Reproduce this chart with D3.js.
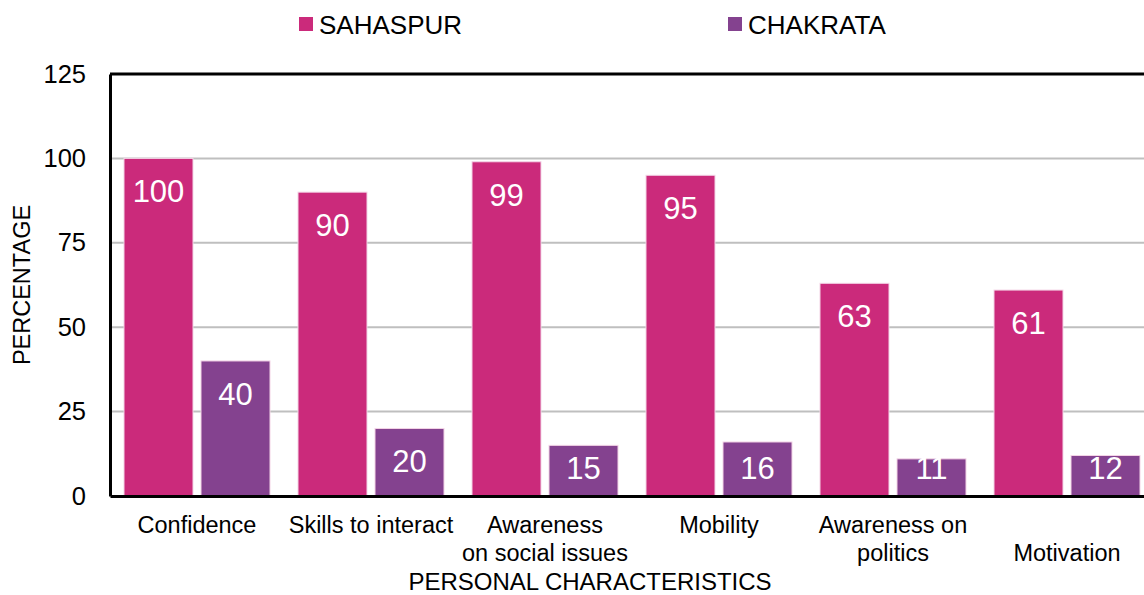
<!DOCTYPE html>
<html>
<head>
<meta charset="utf-8">
<script src="https://cdn.jsdelivr.net/npm/d3@7"></script>
<style>
  body { margin: 0; background: #fff; }
  svg { display: block; font-family: "Liberation Sans", Arial, sans-serif; }
</style>
</head>
<body>
<div id="chart"></div>
<script>
// chart values
const categories = ["Confidence", "Skills to interact", "Awareness on social issues", "Mobility", "Awareness on politics", "Motivation"];
const categoryLines = [["Confidence"], ["Skills to interact"], ["Awareness", "on social issues"], ["Mobility"], ["Awareness on", "politics"], ["", "Motivation"]];
const seriesNames = ["SAHASPUR", "CHAKRATA"];
const sahaspur = [100, 90, 99, 95, 63, 61];
const chakrata = [40, 20, 15, 16, 11, 12];
const yTicks = [0, 25, 50, 75, 100, 125];

const colors = {SAHASPUR: "#cb2a7b", CHAKRATA: "#84428f"};

const width = 1144, height = 595;
const margin = {top: 74, left: 110, bottom: 99};
const plotRight = 1154; // plot runs past the right edge, as in the source

const data = categories.map(function(c, i) {
    return {name: c, lines: categoryLines[i], values: [
        {key: "SAHASPUR", value: sahaspur[i]},
        {key: "CHAKRATA", value: chakrata[i]}
    ]};
});

const svg = d3.select("#chart").append("svg")
    .attr("width", width)
    .attr("height", height);

const x0 = d3.scaleBand()
    .domain(categories)
    .range([margin.left, plotRight])
    .padding(0);

const x1 = d3.scaleBand()
    .domain(seriesNames)
    .range([14, x0.bandwidth() - 14])
    .paddingInner(0.104);

const y = d3.scaleLinear()
    .domain([0, 125])
    .range([height - margin.bottom, margin.top]);

// gridlines
svg.append("g")
    .selectAll("line")
    .data(yTicks.filter(d => d > 0 && d < 125))
    .enter().append("line")
    .attr("x1", margin.left)
    .attr("x2", plotRight)
    .attr("y1", d => y(d))
    .attr("y2", d => y(d))
    .attr("stroke", "#bfbfbf")
    .attr("stroke-width", 2);

// bars
const groups = svg.append("g")
    .selectAll("g")
    .data(data)
    .enter().append("g")
    .attr("transform", d => "translate(" + x0(d.name) + ",0)");

groups.selectAll("rect")
    .data(d => d.values)
    .enter().append("rect")
    .attr("x", d => x1(d.key))
    .attr("width", x1.bandwidth())
    .attr("y", d => y(d.value))
    .attr("height", d => y(0) - y(d.value))
    .attr("fill", d => colors[d.key])
    .attr("stroke", "#f3d4e6")
    .attr("stroke-width", 1);

groups.selectAll("text")
    .data(d => d.values)
    .enter().append("text")
    .attr("x", d => x1(d.key) + x1.bandwidth() / 2)
    .attr("y", d => Math.min(y(d.value) + 44, y(0) - 17))
    .attr("text-anchor", "middle")
    .attr("fill", "#fff")
    .attr("font-size", 31)
    .text(d => d.value);

// plot frame: top line and axes
svg.append("line")
    .attr("x1", margin.left).attr("x2", plotRight)
    .attr("y1", y(125)).attr("y2", y(125))
    .attr("stroke", "#000").attr("stroke-width", 3);

const yAxis = svg.append("g")
    .attr("transform", "translate(" + margin.left + ",0)")
    .call(d3.axisLeft(y).tickValues(yTicks).tickSize(0).tickPadding(24));
yAxis.select(".domain").attr("stroke", "#000").attr("stroke-width", 3);
yAxis.selectAll("text").attr("font-size", 25.5).attr("fill", "#000")
    .attr("font-family", "Liberation Sans, Arial, sans-serif");

const xAxis = svg.append("g")
    .attr("transform", "translate(0," + y(0) + ")")
    .call(d3.axisBottom(x0).tickSize(0).tickFormat(""));
xAxis.select(".domain").attr("stroke", "#000").attr("stroke-width", 3);

// category labels (multi-line)
const catLabels = svg.append("g")
    .selectAll("text")
    .data(data)
    .enter().append("text")
    .attr("x", d => x0(d.name) + x0.bandwidth() / 2)
    .attr("y", y(0) + 37)
    .attr("text-anchor", "middle")
    .attr("font-size", 23.5)
    .attr("fill", "#000");
catLabels.selectAll("tspan")
    .data(d => d.lines)
    .enter().append("tspan")
    .attr("x", function() { return d3.select(this.parentNode).attr("x"); })
    .attr("dy", (d, i) => i === 0 ? 0 : 28)
    .text(d => d);

// axis titles
svg.append("text")
    .attr("x", 590)
    .attr("y", 590)
    .attr("text-anchor", "middle")
    .attr("font-size", 24)
    .text("PERSONAL CHARACTERISTICS");

svg.append("text")
    .attr("transform", "translate(30,285) rotate(-90)")
    .attr("text-anchor", "middle")
    .attr("font-size", 23.5)
    .text("PERCENTAGE");

// legend
const legendX = [299, 728];
const legend = svg.append("g")
    .selectAll("g")
    .data(seriesNames)
    .enter().append("g")
    .attr("transform", (d, i) => "translate(" + legendX[i] + ",0)");
legend.append("rect")
    .attr("x", 0).attr("y", 17)
    .attr("width", 14).attr("height", 14)
    .attr("fill", d => colors[d]);
legend.append("text")
    .attr("x", 20).attr("y", 34)
    .attr("font-size", 26)
    .text(d => d);
</script>
</body>
</html>
